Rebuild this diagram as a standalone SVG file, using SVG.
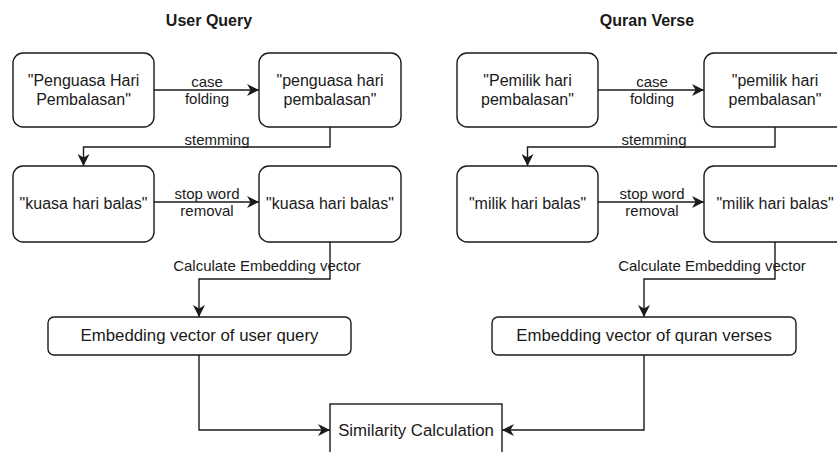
<svg xmlns="http://www.w3.org/2000/svg" width="837" height="452" viewBox="0 0 837 452">
  <style>
    .box { fill: #ffffff; stroke: #1a1a1a; stroke-width: 1.4; }
    .t { font-family: "Liberation Sans", Arial, sans-serif; font-size: 16px; fill: #1a1a1a; text-anchor: middle; }
    .lbl { font-family: "Liberation Sans", Arial, sans-serif; font-size: 15px; fill: #1a1a1a; text-anchor: middle; }
    .title { font-family: "Liberation Sans", Arial, sans-serif; font-size: 16px; font-weight: bold; fill: #1a1a1a; text-anchor: middle; }
    .edge { fill: none; stroke: #1a1a1a; stroke-width: 1.4; marker-end: url(#arrow); }
  </style>
  <defs>
    <marker id="arrow" markerUnits="userSpaceOnUse" markerWidth="12" markerHeight="12" viewBox="0 0 10 10" refX="10" refY="5" orient="auto">
      <path d="M0,0 L10,5 L0,10 L3,5 z" fill="#1a1a1a"/>
    </marker>
  </defs>
  <rect width="837" height="452" fill="#ffffff"/>

  <!-- column headings -->
  <text class="title" x="209" y="26">User Query</text>
  <text class="title" x="647" y="26">Quran Verse</text>

  <!-- connectors -->
  <g id="connectors">
    <!-- user query side -->
    <path class="edge" d="M154,90 L259,90"/>
    <path class="edge" d="M330,127 L330,147 L83.5,147 L83.5,166"/>
    <path class="edge" d="M154,202 L259,202"/>
    <path class="edge" d="M330,242 L330,279 L199,279 L199,317"/>
    <path class="edge" d="M199,355 L199,430 L330,430"/>
    <!-- quran verse side -->
    <path class="edge" d="M598,90 L704,90"/>
    <path class="edge" d="M775,127 L775,147 L527.5,147 L527.5,166"/>
    <path class="edge" d="M598,202 L704,202"/>
    <path class="edge" d="M775,242 L775,279 L644,279 L644,317"/>
    <path class="edge" d="M644,355 L644,430 L502,430"/>

    <!-- connector labels -->
    <text class="lbl" x="207" y="87">case</text>
    <text class="lbl" x="207" y="104">folding</text>
    <text class="lbl" x="217" y="145">stemming</text>
    <text class="lbl" x="207" y="199">stop word</text>
    <text class="lbl" x="207" y="216">removal</text>
    <text class="lbl" x="267" y="271">Calculate Embedding vector</text>

    <text class="lbl" x="652" y="87">case</text>
    <text class="lbl" x="652" y="104">folding</text>
    <text class="lbl" x="654" y="145">stemming</text>
    <text class="lbl" x="652" y="199">stop word</text>
    <text class="lbl" x="652" y="216">removal</text>
    <text class="lbl" x="712" y="271">Calculate Embedding vector</text>
  </g>

  <!-- user query nodes -->
  <g id="uq-original">
    <rect class="box" x="13" y="53" width="141" height="74" rx="10"/>
    <text class="t" x="83.5" y="86">"Penguasa Hari</text>
    <text class="t" x="83.5" y="105">Pembalasan"</text>
  </g>
  <g id="uq-casefold">
    <rect class="box" x="259" y="53" width="142" height="74" rx="10"/>
    <text class="t" x="330" y="86">"penguasa hari</text>
    <text class="t" x="330" y="105">pembalasan"</text>
  </g>
  <g id="uq-stem">
    <rect class="box" x="13" y="166" width="141" height="76" rx="10"/>
    <text class="t" x="83.5" y="209">"kuasa hari balas"</text>
  </g>
  <g id="uq-stopword">
    <rect class="box" x="259" y="166" width="142" height="76" rx="10"/>
    <text class="t" x="330" y="209">"kuasa hari balas"</text>
  </g>
  <g id="uq-embedding">
    <rect class="box" x="48" y="317" width="303" height="38" rx="6"/>
    <text class="t" x="199.5" y="341" style="font-size:16.8px">Embedding vector of user query</text>
  </g>

  <!-- quran verse nodes -->
  <g id="qv-original">
    <rect class="box" x="457" y="53" width="141" height="74" rx="10"/>
    <text class="t" x="527.5" y="86">"Pemilik hari</text>
    <text class="t" x="527.5" y="105">pembalasan"</text>
  </g>
  <g id="qv-casefold">
    <rect class="box" x="704" y="53" width="142" height="74" rx="10"/>
    <text class="t" x="775" y="86">"pemilik hari</text>
    <text class="t" x="775" y="105">pembalasan"</text>
  </g>
  <g id="qv-stem">
    <rect class="box" x="457" y="166" width="141" height="76" rx="10"/>
    <text class="t" x="527.5" y="209">"milik hari balas"</text>
  </g>
  <g id="qv-stopword">
    <rect class="box" x="704" y="166" width="142" height="76" rx="10"/>
    <text class="t" x="775" y="209">"milik hari balas"</text>
  </g>
  <g id="qv-embedding">
    <rect class="box" x="492" y="317" width="304" height="38" rx="6"/>
    <text class="t" x="644" y="341" style="font-size:16.8px">Embedding vector of quran verses</text>
  </g>

  <!-- similarity -->
  <g id="similarity">
    <rect class="box" x="330" y="404" width="172" height="60" rx="0"/>
    <text class="t" x="416" y="436" style="font-size:16.8px">Similarity Calculation</text>
  </g>
</svg>
